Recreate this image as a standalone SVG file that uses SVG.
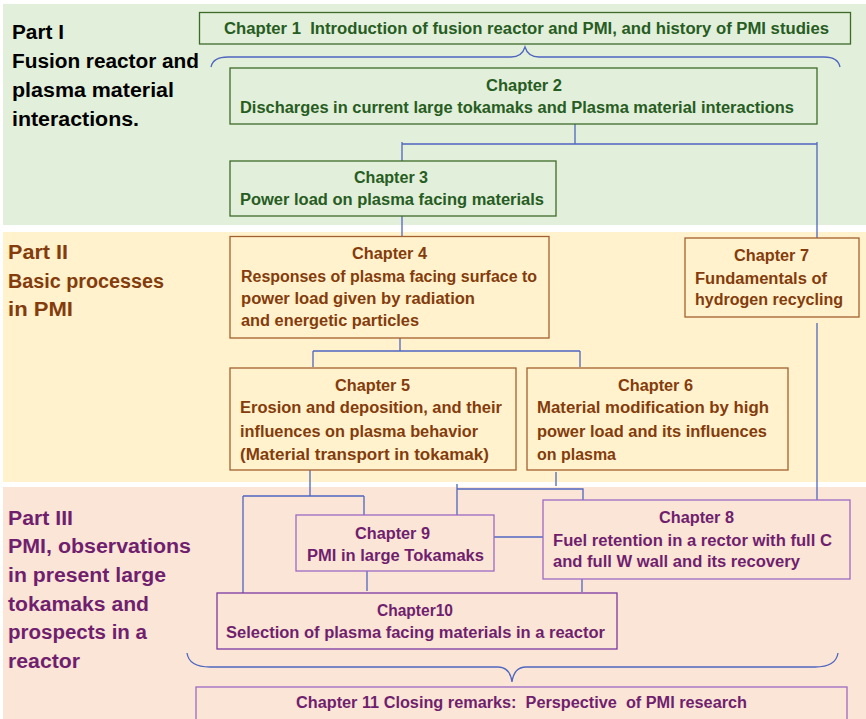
<svg xmlns="http://www.w3.org/2000/svg" width="866" height="719" viewBox="0 0 866 719">
<style>
text{font-family:"Liberation Sans",Arial,sans-serif;font-weight:bold;}
.part{font-size:20px;}
.t{font-size:16px;}
.pre{white-space:pre;}
.g{fill:#275C22;}
.b{fill:#843C0C;}
.p{fill:#701F6E;}
.bg1{fill:#E2EFDA;}
.bg2{fill:#FFF2CC;}
.bg3{fill:#FBE5D6;}
.n1{fill:#E2EFDA;stroke:#3D6B2A;stroke-width:1.3;}
.n2{fill:#FFF2CC;stroke:#A5602F;stroke-width:1.3;}
.n3{fill:#FBE5D6;stroke:#9C6AC4;stroke-width:1.3;}
.n3d{fill:#FBE5D6;stroke:#7A3AA0;stroke-width:1.3;}
.c{fill:none;stroke:#4F66C0;stroke-width:1.3;}
</style>
<rect width="866" height="719" fill="#FFFFFF"/>
<g id="bands">
<rect class="bg1" x="3" y="4" width="863" height="221"/>
<rect class="bg2" x="3" y="232" width="863" height="250"/>
<rect class="bg3" x="3" y="487" width="863" height="232"/>
</g>
<g id="part1">
<text class="part" x="12" y="39" textLength="52" lengthAdjust="spacingAndGlyphs">Part I</text>
<text class="part" x="12" y="68" textLength="187" lengthAdjust="spacingAndGlyphs">Fusion reactor and</text>
<text class="part" x="12" y="97" textLength="162" lengthAdjust="spacingAndGlyphs">plasma material</text>
<text class="part" x="12" y="126" textLength="127" lengthAdjust="spacingAndGlyphs">interactions.</text>
</g>
<g id="part2" class="b">
<text class="part" x="8" y="259" textLength="60" lengthAdjust="spacingAndGlyphs">Part II</text>
<text class="part" x="8" y="288" textLength="156" lengthAdjust="spacingAndGlyphs">Basic processes</text>
<text class="part" x="8" y="316" textLength="65" lengthAdjust="spacingAndGlyphs">in PMI</text>
</g>
<g id="part3" class="p">
<text class="part" x="8" y="525" textLength="65" lengthAdjust="spacingAndGlyphs">Part III</text>
<text class="part" x="8" y="553" textLength="183" lengthAdjust="spacingAndGlyphs">PMI, observations</text>
<text class="part" x="8" y="582" textLength="158" lengthAdjust="spacingAndGlyphs">in present large</text>
<text class="part" x="8" y="611" textLength="141" lengthAdjust="spacingAndGlyphs">tokamaks and</text>
<text class="part" x="8" y="639" textLength="139" lengthAdjust="spacingAndGlyphs">prospects in a</text>
<text class="part" x="8" y="668" textLength="72" lengthAdjust="spacingAndGlyphs">reactor</text>
</g>
<g id="connectors">
<path class="c" d="M211 67 Q213 57 228 57 H511 Q522 57 525 47 Q528 57 539 57 H824 Q838 57 840 67"/>
<path class="c" d="M187 653 Q189 667 210 667 H498 Q510 667 512 682 Q514 667 526 667 H815 Q836 667 838 653"/>
<path class="c" d="M575 124 V144 M402 144 H817 M402 142 V161 M817 142 V238"/>
<path class="c" d="M402 216 V237"/>
<path class="c" d="M400 338 V351 M313 351 H580 M313 351 V367 M580 351 V367"/>
<path class="c" d="M817 323 V501"/>
<path class="c" d="M310 470 V496 M243 496 H364 M243 496 V595 M364 496 V515"/>
<path class="c" d="M556 472 V486 M457 484 V516 M457 489 H583 V500"/>
<path class="c" d="M494 537 H543"/>
<path class="c" d="M367 571 V591"/>
<path class="c" d="M582 579 V592"/>
</g>
<g id="ch1">
<rect class="n1" x="199.5" y="12.5" width="651" height="31.5"/>
<text class="t g pre" x="224" y="34" textLength="605" lengthAdjust="spacingAndGlyphs">Chapter 1  Introduction of fusion reactor and PMI, and history of PMI studies</text>
</g>
<g id="ch2">
<rect class="n1" x="230" y="68" width="587" height="56"/>
<text class="t g" x="486" y="91" textLength="76" lengthAdjust="spacingAndGlyphs">Chapter 2</text>
<text class="t g" x="240" y="113" textLength="554" lengthAdjust="spacingAndGlyphs">Discharges in current large tokamaks and Plasma material interactions</text>
</g>
<g id="ch3">
<rect class="n1" x="230" y="161" width="326" height="55"/>
<text class="t g" x="354" y="183" textLength="74" lengthAdjust="spacingAndGlyphs">Chapter 3</text>
<text class="t g" x="240" y="205" textLength="304" lengthAdjust="spacingAndGlyphs">Power load on plasma facing materials</text>
</g>
<g id="ch4">
<rect class="n2" x="230" y="236.5" width="319" height="101.5"/>
<text class="t b" x="352" y="259" textLength="75" lengthAdjust="spacingAndGlyphs">Chapter 4</text>
<text class="t b" x="241" y="282" textLength="296" lengthAdjust="spacingAndGlyphs">Responses of plasma facing surface to</text>
<text class="t b" x="241" y="304" textLength="234" lengthAdjust="spacingAndGlyphs">power load given by radiation</text>
<text class="t b" x="241" y="326" textLength="178" lengthAdjust="spacingAndGlyphs">and energetic particles</text>
</g>
<g id="ch5">
<rect class="n2" x="230" y="368" width="286" height="102"/>
<text class="t b" x="335" y="391" textLength="75" lengthAdjust="spacingAndGlyphs">Chapter 5</text>
<text class="t b" x="240" y="413" textLength="262" lengthAdjust="spacingAndGlyphs">Erosion and deposition, and their</text>
<text class="t b" x="240" y="437" textLength="238" lengthAdjust="spacingAndGlyphs">influences on plasma behavior</text>
<text class="t b" x="240" y="460" textLength="249" lengthAdjust="spacingAndGlyphs">(Material transport in tokamak)</text>
</g>
<g id="ch6">
<rect class="n2" x="527" y="368" width="261" height="102"/>
<text class="t b" x="618" y="391" textLength="75" lengthAdjust="spacingAndGlyphs">Chapter 6</text>
<text class="t b" x="537" y="413" textLength="232" lengthAdjust="spacingAndGlyphs">Material modification by high</text>
<text class="t b" x="537" y="437" textLength="230" lengthAdjust="spacingAndGlyphs">power load and its influences</text>
<text class="t b" x="537" y="460" textLength="79" lengthAdjust="spacingAndGlyphs">on plasma</text>
</g>
<g id="ch7">
<rect class="n2" x="685" y="238" width="174" height="79"/>
<text class="t b" x="734" y="261" textLength="75" lengthAdjust="spacingAndGlyphs">Chapter 7</text>
<text class="t b" x="695" y="284" textLength="132" lengthAdjust="spacingAndGlyphs">Fundamentals of</text>
<text class="t b" x="695" y="305" textLength="148" lengthAdjust="spacingAndGlyphs">hydrogen recycling</text>
</g>
<g id="ch8">
<rect class="n3" x="543" y="500" width="307" height="79"/>
<text class="t p" x="659" y="523" textLength="75" lengthAdjust="spacingAndGlyphs">Chapter 8</text>
<text class="t p" x="553" y="546" textLength="279" lengthAdjust="spacingAndGlyphs">Fuel retention in a rector with full C</text>
<text class="t p" x="553" y="567" textLength="247" lengthAdjust="spacingAndGlyphs">and full W wall and its recovery</text>
</g>
<g id="ch9">
<rect class="n3" x="296" y="515" width="198" height="56"/>
<text class="t p" x="355" y="539" textLength="75" lengthAdjust="spacingAndGlyphs">Chapter 9</text>
<text class="t p" x="307" y="561" textLength="177" lengthAdjust="spacingAndGlyphs">PMI in large Tokamaks</text>
</g>
<g id="ch10">
<rect class="n3d" x="217" y="593" width="400" height="56"/>
<text class="t p" x="377" y="616" textLength="76" lengthAdjust="spacingAndGlyphs">Chapter10</text>
<text class="t p" x="226" y="638" textLength="379" lengthAdjust="spacingAndGlyphs">Selection of plasma facing materials in a reactor</text>
</g>
<g id="ch11">
<rect class="n3" x="196" y="687" width="651" height="40"/>
<text class="t p pre" x="296" y="708" textLength="451" lengthAdjust="spacingAndGlyphs">Chapter 11 Closing remarks:  Perspective  of PMI research</text>
</g>
</svg>
